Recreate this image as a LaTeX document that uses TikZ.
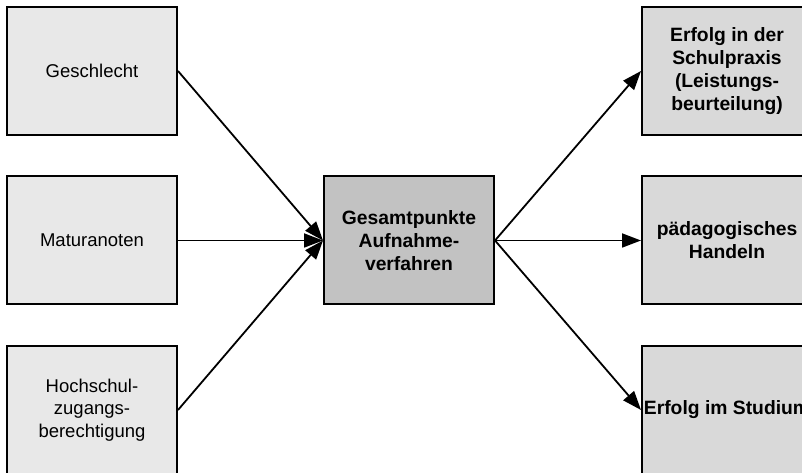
\documentclass[tikz,border=0pt]{standalone}
\usepackage{fontspec}
\setmainfont{Liberation Sans}
\usetikzlibrary{arrows.meta,positioning}
\definecolor{inbox}{RGB}{232,232,232}
\definecolor{midbox}{RGB}{194,194,194}
\definecolor{outbox}{RGB}{217,217,217}

\begin{document}
\begin{tikzpicture}[
  x=1pt, y=1pt,
  box/.style={draw, line width=2pt, minimum width=170pt,
              minimum height=128pt, inner sep=0pt, align=center,
              font=\fontsize{18.5}{22.5}\selectfont},
  bold/.style={font=\fontsize{19.3}{23}\selectfont\bfseries},
  link/.style={line width=1.8pt, -{Triangle[length=19pt, width=14pt]}}
]
\useasboundingbox (0,0) rectangle (802,473);

\node[box, fill=inbox] (geschlecht) at (92,402) {Geschlecht};
\node[box, fill=inbox] (matura) at (92,232.5) {Maturanoten};
\node[box, fill=inbox] (hzb) at (92,63)
  {Hochschul-\\zugangs-\\berechtigung};

\node[box, bold, fill=midbox] (gesamt) at (409,232.5)
  {Gesamtpunkte\\Aufnahme-\\verfahren};

\node[box, bold, fill=outbox] (praxis) at (727,402)
  {Erfolg in der\\Schulpraxis\\(Leistungs-\\beurteilung)};
\node[box, bold, fill=outbox] (handeln) at (727,232.5)
  {pädagogisches\\Handeln};
\node[box, bold, fill=outbox] (studium) at (727,63)
  {Erfolg im Studium};

\draw[link] (geschlecht.east) -- (gesamt.west);
\draw[link] (matura.east) -- (gesamt.west);
\draw[link] (hzb.east) -- (gesamt.west);
\draw[link] (gesamt.east) -- (praxis.west);
\draw[link] (gesamt.east) -- (handeln.west);
\draw[link] (gesamt.east) -- (studium.west);
\end{tikzpicture}
\end{document}
